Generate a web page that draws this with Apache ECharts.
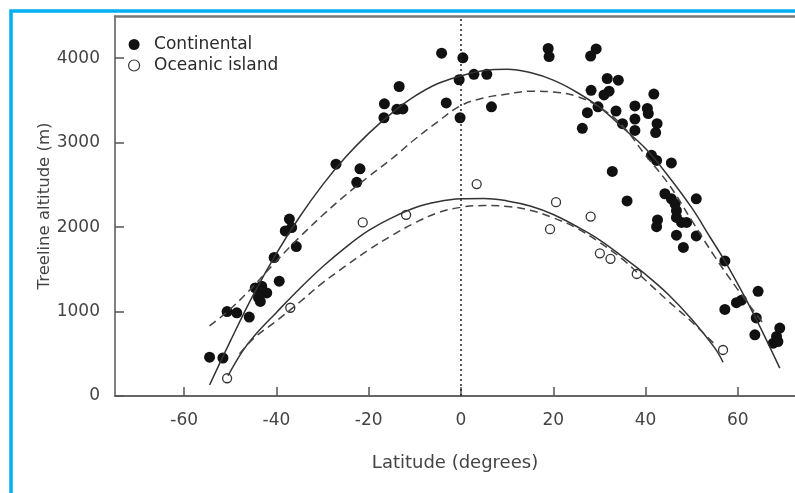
<!DOCTYPE html>
<html>
<head>
<meta charset="utf-8">
<script src="https://cdn.jsdelivr.net/npm/echarts@6/dist/echarts.min.js"></script>
<style>
html, body { margin: 0; padding: 0; background: #fff; }
#chart { width: 795px; height: 493px; }
</style>
</head>
<body>
<div id="chart"></div>
<script>
// tick labels
var latTicks = [-60, -40, -20, 0, 20, 40, 60];
var altTicks = [0, 1000, 2000, 3000, 4000];

// Continental observations
var contLat = [-54.5, -51.6, -50.7, -48.6, -45.9, -44.6, -43.2, -43.5, -42.1, -43.9, -43.5, -39.4, -40.5, -35.7,
    -37.2, -38.1, -36.7, -22.6, -21.9, -27.1, -16.6, -16.7, -13.4, -13.9, -12.6, -4.2, 0.4, -0.4, -3.2, -0.2,
    2.8, 5.6, 6.6, 18.9, 19.1, 28.1, 29.3, 31.7, 34.1, 28.2, 31, 32.1, 41.8, 27.4, 29.7, 33.6, 26.3, 37.7,
    40.4, 40.6, 37.7, 35, 37.7, 42.5, 42.2, 41.3, 42.4, 45.6, 32.8, 36, 44.2, 45.6, 46.4, 46.7, 46.7, 47.8,
    48.9, 51, 42.6, 42.4, 46.7, 51, 48.2, 57.2, 64.4, 60.8, 59.7, 57.2, 64, 63.7, 69.1, 68.4, 67.7, 68.7];
var contAlt = [460, 450, 1000, 985, 935, 1280, 1300, 1240, 1220, 1165, 1120, 1360, 1640, 1770,
    2095, 1955, 1995, 2530, 2690, 2745, 3460, 3295, 3665, 3395, 3400, 4060, 4005, 3745, 3470, 3295,
    3810, 3810, 3425, 4115, 4020, 4025, 4110, 3760, 3740, 3620, 3565, 3610, 3575, 3355, 3425, 3375, 3170, 3435,
    3405, 3345, 3280, 3225, 3145, 3225, 3120, 2850, 2790, 2760, 2660, 2310, 2395, 2335, 2275, 2195, 2115, 2055,
    2055, 2335, 2085, 2005, 1905, 1895, 1760, 1600, 1240, 1135, 1105, 1025, 925, 725, 805, 705, 625, 645];

// Oceanic island observations
var oceLat = [-50.7, -37, -21.3, -11.9, 3.4, 20.6, 19.3, 28.1, 30.1, 32.4, 38.1, 56.8];
var oceAlt = [210, 1045, 2055, 2145, 2510, 2295, 1975, 2125, 1690, 1625, 1445, 545];

// fitted curves
var contFitLat = [-54.5, -50, -45, -40, -35, -30, -25, -20, -15, -10, -5, 0, 5, 10, 15, 20, 25, 30, 35, 40, 45, 50, 54, 57.5, 63.3, 69.1];
var contFitAlt = [130, 650, 1200, 1690, 2120, 2500, 2830, 3110, 3350, 3550, 3700, 3790, 3855, 3870, 3830, 3740, 3600, 3420, 3180, 2930, 2600, 2230, 1880, 1570, 985, 330];
var contDashLat = [-54.5, -50, -45, -40, -35, -30, -25, -20, -15, -10, -5, 0, 5, 10, 15, 20, 25, 30, 35, 40, 45, 50, 55, 60, 65.5];
var contDashAlt = [830, 1030, 1300, 1600, 1880, 2140, 2380, 2600, 2810, 3040, 3250, 3440, 3530, 3575, 3610, 3600, 3550, 3420, 3200, 2850, 2510, 2080, 1650, 1260, 860];
var oceFitLat = [-50.5, -47.5, -45, -40, -35, -30, -25, -20, -15, -10, -5, 0, 5, 10, 15, 20, 25, 30, 35, 40, 45, 50, 55, 56.8];
var oceFitAlt = [240, 520, 700, 990, 1270, 1530, 1760, 1960, 2110, 2230, 2300, 2335, 2340, 2310, 2250, 2150, 2010, 1850, 1650, 1440, 1200, 910, 570, 400];
var oceDashLat = [-48, -45, -40, -35, -30, -25, -20, -15, -10, -5, 0, 5, 10, 15, 20, 25, 30, 35, 40, 45, 50, 55.4];
var oceDashAlt = [500, 680, 890, 1110, 1340, 1540, 1730, 1900, 2050, 2170, 2235, 2255, 2245, 2200, 2110, 1990, 1820, 1620, 1370, 1120, 880, 590];

function pairs(xs, ys) {
    var out = [];
    for (var i = 0; i < xs.length; i++) out.push([xs[i], ys[i]]);
    return out;
}

var font = 'DejaVu Sans';
var myChart = echarts.init(document.getElementById('chart'));

var option = {
    animation: false,
    backgroundColor: '#fff',
    graphic: [{
        type: 'rect',
        shape: { x: 11, y: 11, width: 1000, height: 1000 },
        style: { fill: 'none', stroke: '#00b0f0', lineWidth: 3.5 },
        z: 100
    }],
    legend: {
        orient: 'vertical',
        left: 123,
        top: 31,
        itemWidth: 20,
        itemHeight: 11,
        itemGap: 4,
        textStyle: { fontFamily: font, fontSize: 17, color: '#2a2a2a', lineHeight: 17, padding: [0, 0, 0, 5] },
        data: ['Continental', { name: 'Oceanic island', itemStyle: { borderWidth: 1.2 } }]
    },
    grid: {
        left: 115,
        top: 16,
        right: 0,
        bottom: 97
    },
    xAxis: [{
        type: 'value',
        min: -75,
        max: 72.4,
        name: 'Latitude (degrees)',
        nameLocation: 'middle',
        nameGap: 58,
        nameTextStyle: { fontFamily: font, fontSize: 18, color: '#444' },
        axisLine: { onZero: false, lineStyle: { color: '#666', width: 2 } },
        axisTick: { inside: true, length: 9, lineStyle: { color: '#555', width: 1.5 }, customValues: latTicks },
        axisLabel: { margin: 16, fontFamily: font, fontSize: 17, color: '#444', customValues: latTicks },
        splitLine: { show: false }
    }, {
        // top frame line only
        type: 'value',
        position: 'top',
        min: -75,
        max: 72.4,
        axisLine: { show: true, onZero: false, lineStyle: { color: '#777', width: 2.5 } },
        axisTick: { show: false },
        axisLabel: { show: false },
        splitLine: { show: false }
    }],
    yAxis: {
        type: 'value',
        min: 0,
        max: 4500,
        name: 'Treeline altitude (m)',
        nameLocation: 'middle',
        nameGap: 62,
        nameMoveOverlap: false,
        nameRotate: 90,
        nameTextStyle: { fontFamily: font, fontSize: 16.5, color: '#444' },
        axisLine: { show: true, onZero: false, lineStyle: { color: '#555', width: 1.5 } },
        axisTick: { show: true, inside: true, length: 9, lineStyle: { color: '#555', width: 1.5 }, customValues: altTicks },
        axisLabel: {
            margin: 15, fontFamily: font, fontSize: 17, color: '#444', customValues: altTicks,
            formatter: function (v) { return String(v); }
        },
        splitLine: { show: false }
    },
    series: [{
        name: 'equator',
        type: 'line',
        data: [[0, 0], [0, 4500]],
        symbol: 'none',
        silent: true,
        lineStyle: { color: '#222', width: 1.5, type: [2, 3] }
    }, {
        name: 'continental fit',
        type: 'line',
        data: pairs(contFitLat, contFitAlt),
        smooth: 0.4,
        symbol: 'none',
        lineStyle: { color: '#333', width: 1.5 }
    }, {
        name: 'continental fit 2',
        type: 'line',
        data: pairs(contDashLat, contDashAlt),
        smooth: 0.4,
        symbol: 'none',
        lineStyle: { color: '#444', width: 1.5, type: [8, 5] }
    }, {
        name: 'oceanic fit',
        type: 'line',
        data: pairs(oceFitLat, oceFitAlt),
        smooth: 0.4,
        symbol: 'none',
        lineStyle: { color: '#333', width: 1.5 }
    }, {
        name: 'oceanic fit 2',
        type: 'line',
        data: pairs(oceDashLat, oceDashAlt),
        smooth: 0.4,
        symbol: 'none',
        lineStyle: { color: '#444', width: 1.5, type: [8, 5] }
    }, {
        name: 'Oceanic island',
        type: 'scatter',
        data: pairs(oceLat, oceAlt),
        symbol: 'circle',
        symbolSize: 9,
        itemStyle: { color: 'rgba(255,255,255,0)', borderColor: '#333', borderWidth: 1.3, opacity: 1 }
    }, {
        name: 'Continental',
        type: 'scatter',
        data: pairs(contLat, contAlt),
        symbol: 'circle',
        symbolSize: 11,
        itemStyle: { color: '#111', opacity: 1 }
    }]
};

option && myChart.setOption(option);
</script>
</body>
</html>
